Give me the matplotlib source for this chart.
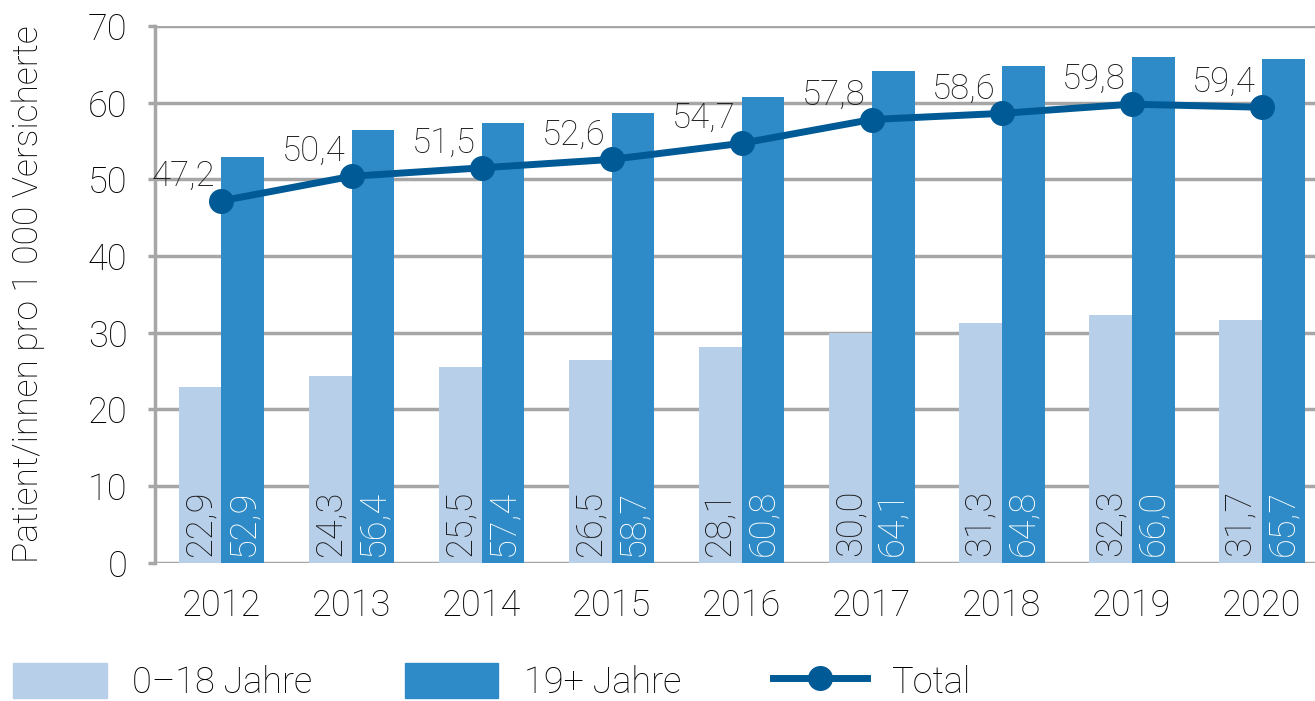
import matplotlib
matplotlib.use("Agg")
import matplotlib.pyplot as plt
import numpy as np
from matplotlib.patches import Patch
from matplotlib.lines import Line2D

plt.rcParams['font.family'] = ['Roboto', 'DejaVu Sans']
plt.rcParams['font.weight'] = 'light'
plt.rcParams['axes.labelweight'] = 'light'

years = ['2012', '2013', '2014', '2015', '2016', '2017', '2018', '2019', '2020']
kids = [22.9, 24.3, 25.5, 26.5, 28.1, 30.0, 31.3, 32.3, 31.7]
adults = [52.9, 56.4, 57.4, 58.7, 60.8, 64.1, 64.8, 66.0, 65.7]
total = [47.2, 50.4, 51.5, 52.6, 54.7, 57.8, 58.6, 59.8, 59.4]

c_light = '#b8cfea'
c_dark = '#2e8bc7'
c_line = '#005a96'
c_grid = '#a6a6a6'

def fmt(v):
    return f'{v:.1f}'.replace('.', ',')

fig = plt.figure(figsize=(13.15, 7.01), dpi=100)
ax = fig.add_axes([0.118, 0.197, 0.882, 0.766])

x = np.arange(len(years))
w = 0.33
ax.bar(x - w, kids, w, align='edge', color=c_light, zorder=2)
ax.bar(x, adults, w, align='edge', color=c_dark, zorder=2)
ax.plot(x, total, color=c_line, lw=5, marker='o', ms=17, zorder=3)

for i in range(len(years)):
    ax.text(x[i] - w / 2, 0.9, fmt(kids[i]), rotation=90, ha='center', va='bottom',
            fontsize=26, color='#1a1a1a', zorder=4)
    ax.text(x[i] + w / 2, 0.9, fmt(adults[i]), rotation=90, ha='center', va='bottom',
            fontsize=26, color='white', zorder=4)
    ax.annotate(fmt(total[i]), (x[i], total[i]), xytext=(-6, 8), textcoords='offset pixels',
                ha='right', va='bottom', fontsize=25, color='#1a1a1a', zorder=5)

ax.set_xlim(-0.51, 8.41)
ax.set_ylim(0, 70)
ax.set_yticks(range(0, 71, 10))
ax.set_xticks(x)
ax.set_xticklabels(years)
ax.yaxis.grid(True, color=c_grid, lw=2.5, zorder=0)
ax.set_axisbelow(True)
for s in ['top', 'right', 'bottom']:
    ax.spines[s].set_visible(False)
ax.spines['left'].set_color(c_grid)
ax.spines['left'].set_linewidth(2.5)
ax.tick_params(axis='y', length=5, width=2.5, color=c_grid, pad=15, labelsize=26)
ax.tick_params(axis='x', length=0, pad=18, labelsize=26)
ax.set_ylabel('Patient/innen pro 1 000 Versicherte', fontsize=25.5, fontweight='light')
ax.yaxis.set_label_coords(-0.095, 0.5)

handles = [Patch(color=c_light), Patch(color=c_dark),
           Line2D([], [], color=c_line, lw=5, marker='o', ms=17)]
fig.legend(handles, ['0–18 Jahre', '19+ Jahre', 'Total'], loc='lower left',
           bbox_to_anchor=(0.01, 0.0), ncol=3, frameon=False, fontsize=26,
           borderpad=0, borderaxespad=0,
           handlelength=2.6, handleheight=1.1, handletextpad=0.7, columnspacing=2.55)

fig.savefig('out.png', dpi=100)
